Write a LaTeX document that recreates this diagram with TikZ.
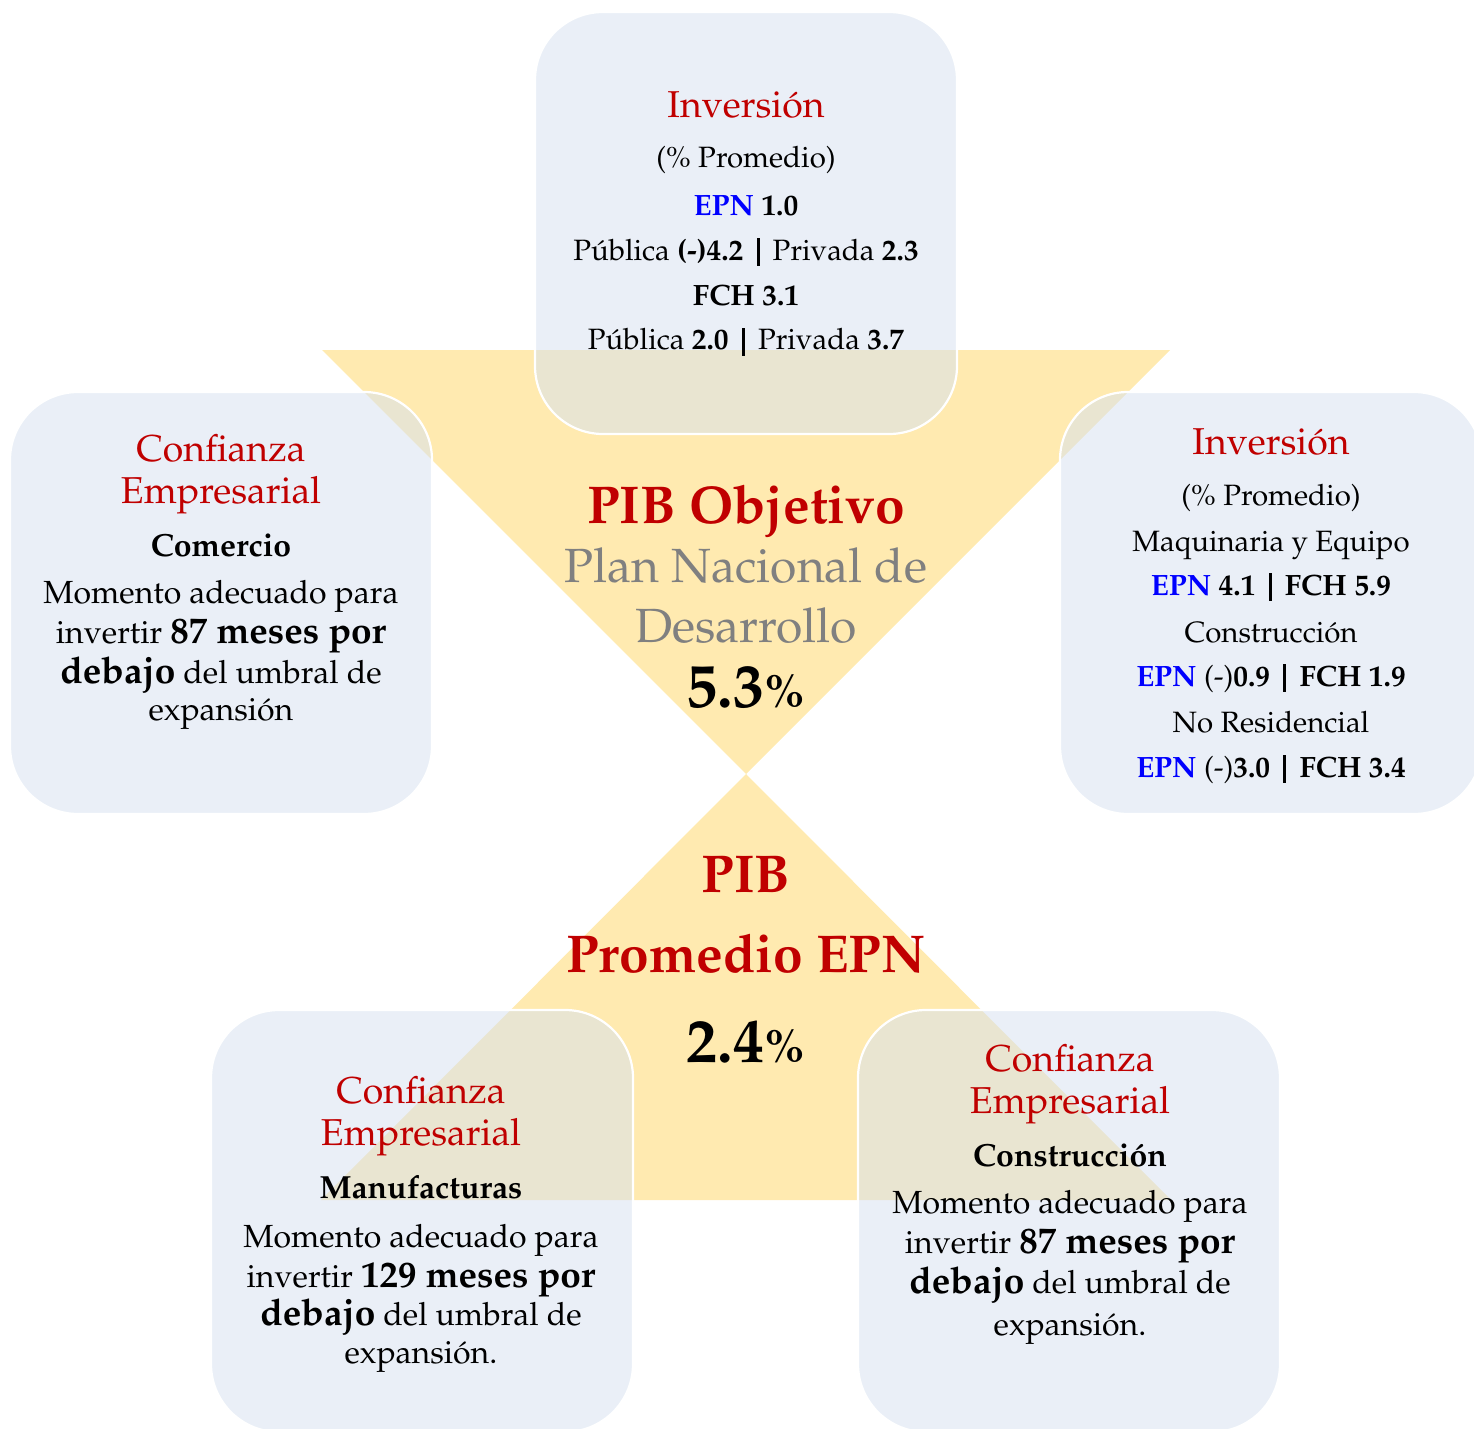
\documentclass[tikz,border=0pt]{standalone}
\usepackage[T1]{fontenc}
\renewcommand{\rmdefault}{ppl}
\usepackage{xcolor}
\definecolor{ylw}{RGB}{255,234,176}
\definecolor{boxc}{RGB}{215,225,240}
\definecolor{redt}{RGB}{192,0,0}
\definecolor{epnb}{RGB}{0,0,255}
\definecolor{greyt}{RGB}{128,128,128}
\newcommand{\epn}{\textcolor{epnb}{\bfseries EPN}}
\newcommand{\bsz}{\fontsize{18.5}{20}\selectfont\bfseries}
\newcommand{\vbar}{\hspace{0.45em}\rule[-0.2em]{0.1em}{0.95em}\hspace{0.45em}}
\tikzset{
  tri/.style={fill=ylw, draw=none},
  panel/.style={draw=white, line width=1.1pt, fill=boxc, fill opacity=0.53,
    rounded corners=34pt, minimum width=211pt, minimum height=211pt, inner sep=0pt},
  ln/.style={anchor=base, inner sep=0pt, text=black},
  ttlA/.style={ln, text=redt, font=\fontsize{18.7}{20}\selectfont},
  ttlB/.style={ln, text=redt, font=\fontsize{18.7}{20}\selectfont},
  bodA/.style={ln, font=\fontsize{14.7}{17}\selectfont},
  bodB/.style={ln, font=\fontsize{16}{18}\selectfont},
  subB/.style={ln, font=\fontsize{16}{18}\selectfont\bfseries},
  bigred/.style={ln, text=redt, font=\fontsize{26.6}{28}\selectfont\bfseries},
  biggrey/.style={ln, text=greyt, font=\fontsize{24}{26}\selectfont},
  bignum/.style={ln, font=\fontsize{31}{33}\selectfont\bfseries},
}
\begin{document}
\begin{tikzpicture}[x=0.5pt,y=-0.5pt]
\useasboundingbox (0,0) rectangle (1474,1429);
\clip (0,0) rectangle (1474,1429);
% triangles
\fill[tri] (322,350) -- (1170,350) -- (746,774) -- cycle;
\fill[tri] (746,774) -- (1171,1200) -- (321,1200) -- cycle;
% panels
\node[panel] (ptop) at (746,223) {};
\node[panel] (pleft) at (221,603) {};
\node[panel] (pright) at (1271,603) {};
\node[panel] (pbl) at (422,1221) {};
\node[panel] (pbr) at (1069,1221) {};
% top panel text
\node[ttlA] (t1) at (746,118) {Inversi\'on};
\node[bodA] (t2) at (746,168) {(\% Promedio)};
\node[bodA] (t3) at (746,215) {\epn{} \textbf{1.0}};
\node[bodA] (t4) at (746,260) {P\'ublica \textbf{(-)4.2}\vbar Privada \textbf{2.3}};
\node[bodA] (t5) at (746,305) {\textbf{FCH 3.1}};
\node[bodA] (t6) at (746,350) {P\'ublica \textbf{2.0}\vbar Privada \textbf{3.7}};
% left panel text
\node[ttlB] (l1) at (221,461) {Confianza};
\node[ttlB] (l2) at (221,503) {Empresarial};
\node[subB] (l3) at (221,556) {Comercio};
\node[bodB] (l4) at (221,603) {Momento adecuado para};
\node[bodB] (l5) at (221,643) {invertir {\bsz 87 meses por}};
\node[bodB] (l6) at (221,683) {{\bsz debajo} del umbral de};
\node[bodB] (l7) at (221,720) {expansi\'on};
% right panel text
\node[ttlA] (r1) at (1271,454) {Inversi\'on};
\node[bodA] (r2) at (1271,505) {(\% Promedio)};
\node[bodA] (r3) at (1271,551) {Maquinaria y Equipo};
\node[bodA] (r4) at (1271,595) {\epn{} \textbf{4.1}\vbar\textbf{FCH 5.9}};
\node[bodA] (r5) at (1271,642) {Construcci\'on};
\node[bodA] (r6) at (1271,686) {\epn{} (-)\textbf{0.9}\vbar\textbf{FCH 1.9}};
\node[bodA] (r7) at (1271,732) {No Residencial};
\node[bodA] (r8) at (1271,777) {\epn{} (-)\textbf{3.0}\vbar\textbf{FCH 3.4}};
% bottom-left panel text
\node[ttlB] (a1) at (421,1103) {Confianza};
\node[ttlB] (a2) at (421,1145) {Empresarial};
\node[subB] (a3) at (421,1198) {Manufacturas};
\node[bodB] (a4) at (421,1247) {Momento adecuado para};
\node[bodB] (a5) at (421,1287) {invertir {\bsz 129 meses por}};
\node[bodB] (a6) at (421,1325) {{\bsz debajo} del umbral de};
\node[bodB] (a7) at (421,1363) {expansi\'on.};
% bottom-right panel text
\node[ttlB] (b1) at (1070,1071) {Confianza};
\node[ttlB] (b2) at (1070,1113) {Empresarial};
\node[subB] (b3) at (1070,1166) {Construcci\'on};
\node[bodB] (b4) at (1070,1213) {Momento adecuado para};
\node[bodB] (b5) at (1070,1253) {invertir {\bsz 87 meses por}};
\node[bodB] (b6) at (1070,1293) {{\bsz debajo} del umbral de};
\node[bodB] (b7) at (1070,1335) {expansi\'on.};
% centre text
\node[bigred] (c1) at (746,523) {PIB Objetivo};
\node[biggrey] (c2) at (746,582) {Plan Nacional de};
\node[biggrey] (c3) at (746,642) {Desarrollo};
\node[bignum] (c4) at (746,707) {5.3{\fontsize{23}{25}\selectfont\%}};
\node[bigred] (c5) at (746,892) {PIB};
\node[bigred] (c6) at (746,972) {Promedio EPN};
\node[bignum] (c7) at (746,1062) {2.4{\fontsize{23}{25}\selectfont\%}};
\end{tikzpicture}
\end{document}
